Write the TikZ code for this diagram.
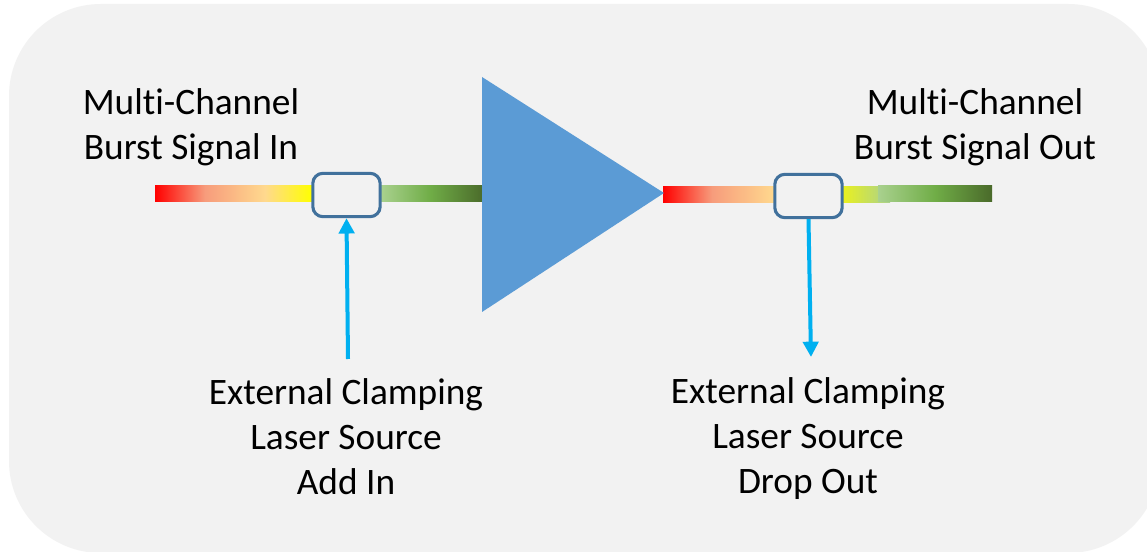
\documentclass[tikz,border=0pt]{standalone}
\usepackage{fontspec}
\setmainfont[Ligatures=NoCommon]{Carlito}
\usetikzlibrary{arrows.meta}
\definecolor{panel}{HTML}{F2F2F2}
\definecolor{tri}{HTML}{5B9BD5}
\definecolor{boxline}{HTML}{41719C}
\definecolor{cyanline}{HTML}{00B0F0}
\definecolor{lgreen}{HTML}{A9D18E}
\definecolor{mgreen}{HTML}{70AD47}
\definecolor{dgreen}{HTML}{4A6A2A}
\definecolor{lorange}{HTML}{FFD98E}
\definecolor{salmon}{HTML}{F79C7C}
\definecolor{lyellow}{HTML}{E9F020}
\tikzset{
  lbl/.style={align=center,font=\fontsize{28}{33.6}\selectfont,text=black,inner sep=0pt},
  coupler/.style={draw=boxline,line width=2.3pt,rounded corners=7.5pt,fill=panel,minimum width=50.5pt,minimum height=32.5pt,inner sep=0pt},
  feed/.style={draw=cyanline,line width=3pt,-{Triangle[length=11.5pt,width=11.5pt]}}
}
\newcommand{\barseg}[6]{\shade[left color=#5,right color=#6] (#1,#3) rectangle (#2,#4);}
\begin{document}
\begin{tikzpicture}[x=0.75pt,y=-0.75pt]
\useasboundingbox (0,0) rectangle (1147,552);
\fill[white] (0,0) rectangle (1147,552);
\begin{scope}
\clip (0,0) rectangle (1147,552);
\fill[panel,rounded corners=69pt] (9,4) rectangle (1160,553);
\end{scope}
\barseg{155}{205}{186}{202}{red}{salmon}
\barseg{205}{265}{186}{202}{salmon}{lorange}
\barseg{265}{312}{186}{202}{lorange}{yellow}
\barseg{381}{430}{186}{202}{lgreen}{mgreen}
\barseg{430}{484}{186}{202}{mgreen}{dgreen}
\barseg{663}{712}{187}{203}{red}{salmon}
\barseg{712}{774}{187}{203}{salmon}{lorange}
\barseg{843}{890}{187}{203}{lyellow}{lgreen}
\barseg{878}{935}{186}{202}{lgreen}{mgreen}
\barseg{935}{992}{186}{202}{mgreen}{dgreen}
\fill[tri] (482,77) -- (664,193) -- (482,312) -- cycle;
\node[coupler] (c1) at (346.5,195) {};
\node[coupler] (c2) at (808.5,196) {};
\coordinate (a1) at (348,359);
\coordinate (a2) at (811,357);
\draw[feed] (a1) -- (c1.south);
\draw[feed] (c2.south) -- (a2);
\node[lbl] (t1) at (191,127) {Multi-Channel\\Burst Signal In};
\node[lbl] (t2) at (975,127) {Multi-Channel\\Burst Signal Out};
\node[lbl] (t3) at (346,436.5) {External Clamping\\Laser Source\\Add In};
\node[lbl] (t4) at (808,438.5) {External Clamping\\Laser Source\\Drop Out};
\end{tikzpicture}
\end{document}
